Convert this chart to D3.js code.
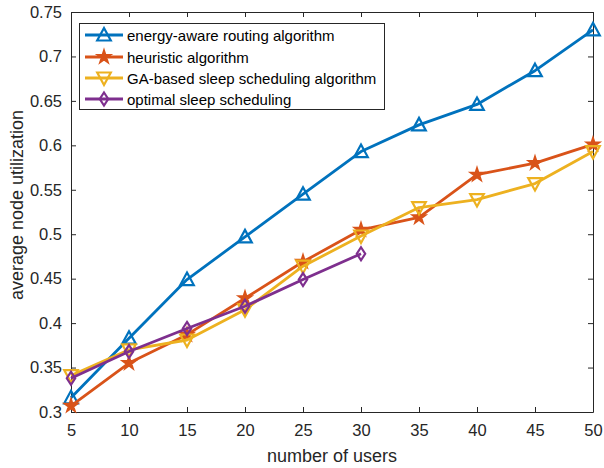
<!DOCTYPE html>
<html>
<head>
<meta charset="utf-8">
<script src="https://cdn.jsdelivr.net/npm/d3@7"></script>
<style>
  body { margin: 0; background: #fff; }
  text { font-family: "Liberation Sans", Arial, sans-serif; }
</style>
</head>
<body>
<script>
// data
var users = [5, 10, 15, 20, 25, 30, 35, 40, 45, 50];
var energyAware = [0.316, 0.383, 0.449, 0.497, 0.545, 0.593, 0.623, 0.646, 0.684, 0.730];
var heuristic = [0.307, 0.355, 0.387, 0.428, 0.469, 0.505, 0.519, 0.567, 0.580, 0.601];
var gaSleep = [0.341, 0.370, 0.381, 0.415, 0.464, 0.498, 0.530, 0.539, 0.557, 0.593];
var optimalUsers = [5, 10, 15, 20, 25, 30];
var optimalSleep = [0.338, 0.368, 0.394, 0.419, 0.449, 0.478];
var xTicks = [5, 10, 15, 20, 25, 30, 35, 40, 45, 50];
var yTicks = [0.3, 0.35, 0.4, 0.45, 0.5, 0.55, 0.6, 0.65, 0.7, 0.75];

var series = [
  {name: "energy-aware routing algorithm", x: users, y: energyAware, color: "#0072BD", marker: "up"},
  {name: "heuristic algorithm", x: users, y: heuristic, color: "#D95319", marker: "star"},
  {name: "GA-based sleep scheduling algorithm", x: users, y: gaSleep, color: "#EDB120", marker: "down"},
  {name: "optimal sleep scheduling", x: optimalUsers, y: optimalSleep, color: "#7E2F8E", marker: "diamond"}
];

var W = 604, H = 468;
var plotL = 71, plotR = 593, plotT = 12, plotB = 412;

var svg = d3.select("body").append("svg")
  .attr("width", W).attr("height", H);

var x = d3.scaleLinear().domain([5, 50]).range([plotL, plotR]);
var y = d3.scaleLinear().domain([0.3, 0.75]).range([plotB, plotT]);

var axisColor = "#262626";

// axes with inward ticks, box all round
var gx = svg.append("g").attr("transform", "translate(0," + plotB + ")")
  .call(d3.axisBottom(x).tickValues(xTicks).tickSizeInner(-5).tickSizeOuter(0).tickPadding(12).tickFormat(d3.format("d")));
var gy = svg.append("g").attr("transform", "translate(" + plotL + ",0)")
  .call(d3.axisLeft(y).tickValues(yTicks).tickSizeInner(-5).tickSizeOuter(0).tickPadding(9).tickFormat(function(d) { return String(+d.toFixed(2)); }));
var gt = svg.append("g").attr("transform", "translate(0," + plotT + ")")
  .call(d3.axisTop(x).tickValues(xTicks).tickSizeInner(-5).tickSizeOuter(0).tickFormat(""));
var gr = svg.append("g").attr("transform", "translate(" + plotR + ",0)")
  .call(d3.axisRight(y).tickValues(yTicks).tickSizeInner(-5).tickSizeOuter(0).tickFormat(""));

[gx, gy, gt, gr].forEach(function(g) {
  g.selectAll("path").attr("stroke", axisColor).attr("stroke-width", 1);
  g.selectAll("line").attr("stroke", axisColor).attr("stroke-width", 1);
  g.selectAll("text").attr("fill", axisColor).style("font-size", "16.5px")
    .style("font-family", "Liberation Sans, Arial, sans-serif");
});

svg.append("text")
  .attr("x", (plotL + plotR) / 2).attr("y", 462)
  .attr("text-anchor", "middle").attr("fill", axisColor)
  .style("font-size", "18px")
  .text("number of users");

svg.append("text")
  .attr("transform", "translate(23,205) rotate(-90)")
  .attr("text-anchor", "middle").attr("fill", axisColor)
  .style("font-size", "18px")
  .text("average node utilization");

// marker path around 0,0
function markerPath(type) {
  if (type == "up") return "M0,-7L6.8,5.5L-6.8,5.5Z";
  if (type == "down") return "M0,7L6.8,-5.5L-6.8,-5.5Z";
  if (type == "star") return d3.symbol().type(d3.symbolStar).size(42)();
  return "M0,-6.5L4.2,0L0,6.5L-4.2,0Z";
}

function drawMarker(g, type, cx, cy, color) {
  g.append("path")
    .attr("d", markerPath(type))
    .attr("transform", "translate(" + cx + "," + cy + ")")
    .attr("stroke", color)
    .attr("stroke-width", 2.2)
    .attr("stroke-linejoin", "miter")
    .attr("fill", type == "star" ? color : "none");
}

var line = d3.line().x(function(d) { return x(d[0]); }).y(function(d) { return y(d[1]); });

var plot = svg.append("g");
series.forEach(function(s) {
  var pts = s.x.map(function(v, i) { return [v, s.y[i]]; });
  plot.append("path")
    .attr("d", line(pts))
    .attr("fill", "none")
    .attr("stroke", s.color)
    .attr("stroke-width", 2.8)
    .attr("stroke-linejoin", "round");
  pts.forEach(function(p) {
    drawMarker(plot, s.marker, x(p[0]), y(p[1]), s.color);
  });
});

// legend
var lg = svg.append("g");
lg.append("rect")
  .attr("x", 79.5).attr("y", 23.5).attr("width", 305).attr("height", 86)
  .attr("fill", "#fff").attr("stroke", axisColor).attr("stroke-width", 1);
var legY = [35, 57, 78, 99];
series.forEach(function(s, i) {
  lg.append("line")
    .attr("x1", 85).attr("x2", 123).attr("y1", legY[i]).attr("y2", legY[i])
    .attr("stroke", s.color).attr("stroke-width", 3);
  drawMarker(lg, s.marker, 104, legY[i], s.color);
  lg.append("text")
    .attr("x", 127).attr("y", legY[i] + 5.5)
    .attr("fill", "#000")
    .style("font-size", "15px")
    .text(s.name);
});
</script>
</body>
</html>
